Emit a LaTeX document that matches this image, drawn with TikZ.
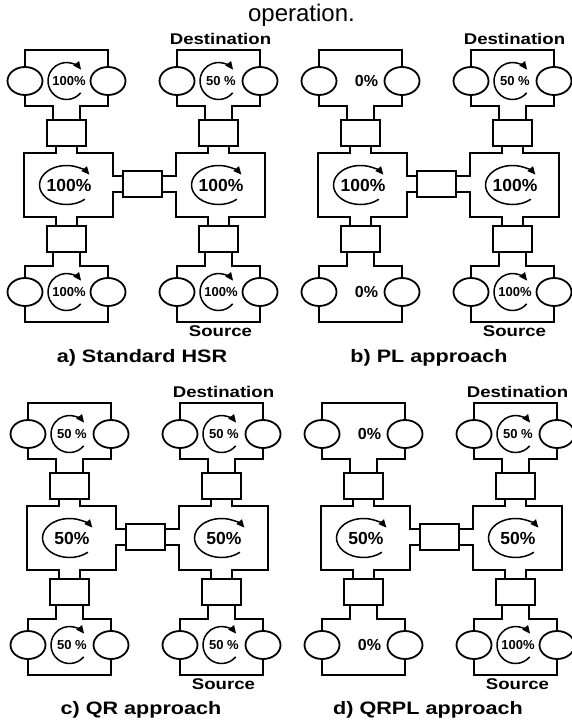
\documentclass[tikz,border=0pt]{standalone}
\usepackage{fontspec}
\setmainfont{Liberation Sans}
\usetikzlibrary{arrows.meta,shapes.geometric}
\tikzset{
  wire/.style={line width=1.8pt},
  unitbox/.style={draw, line width=1.8pt, minimum width=39pt, minimum height=26pt, inner sep=0pt},
  port/.style={draw, ellipse, line width=1.8pt, minimum width=35pt, minimum height=28pt, inner sep=0pt},
  spin/.style={line width=1.5pt, -{Triangle[length=8pt,width=7pt]}},
  bigpct/.style={font=\fontsize{17.5}{18}\selectfont\bfseries, inner sep=0pt},
  smallpct/.style={font=\fontsize{13}{14}\selectfont\bfseries, inner sep=0pt},
  zeropct/.style={font=\fontsize{16}{17}\selectfont\bfseries, inner sep=0pt},
  tag/.style={font=\fontsize{15.5}{16}\selectfont\bfseries, inner sep=0pt, anchor=base},
  capt/.style={font=\fontsize{18}{19}\selectfont\bfseries, inner sep=0pt, anchor=base},
}
\newcommand\widen[1]{\scalebox{1.2}[1]{#1}}
% circulating arrow with text inside a ring: #1 text, #2 name, #3 centre
\newcommand\ringspin[3]{%
  \draw[spin] #3 ++(-40:18.5pt) arc[start angle=-40, end angle=-322, radius=18.5pt];
  \node[smallpct, xshift=2.5pt] (#2) at #3 {#1};}
% plain text inside a ring
\newcommand\ringflat[3]{\node[zeropct, xshift=6pt] (#2) at #3 {#1};}
% circulating arrow inside a hub
\newcommand\hubspin[3]{%
  \draw[spin] #3 ++(-47:27pt and 19.5pt) arc[start angle=-47, end angle=-328, x radius=27pt, y radius=19.5pt];
  \node[bigpct, xshift=2.5pt] (#2) at #3 {#1};}
% rings and boxes of one column: #1 prefix, #2 centre x
\newcommand\colbase[2]{%
  \node[port] (#1a) at ({#2-41.5},81) {};
  \node[port] (#1b) at ({#2+41.5},81) {};
  \node[port] (#1c) at ({#2-41.5},292) {};
  \node[port] (#1d) at ({#2+41.5},292) {};
  \node[unitbox] (#1u) at (#2,133) {};
  \node[unitbox] (#1l) at (#2,239) {};
  \draw[wire] ([xshift=-13.5pt]#1u.north) -- ({#2-13.5},106) -- ({#2-41.5},106) -- (#1a.south);
  \draw[wire] (#1a.north) -- ({#2-41.5},50) -- ({#2+41.5},50) -- (#1b.north);
  \draw[wire] (#1b.south) -- ({#2+41.5},106) -- ({#2+13.5},106) -- ([xshift=13.5pt]#1u.north);
  \draw[wire] ([xshift=-13.5pt]#1l.south) -- ({#2-13.5},266) -- ({#2-41.5},266) -- (#1c.north);
  \draw[wire] (#1c.south) -- ({#2-41.5},322) -- ({#2+41.5},322) -- (#1d.south);
  \draw[wire] (#1d.north) -- ({#2+41.5},266) -- ({#2+13.5},266) -- ([xshift=13.5pt]#1l.south);}
% hub with notch on its right: #1 prefix, #2 centre x, #3 middle box
\newcommand\hubleft[3]{%
  \draw[wire] ([xshift=-10.5pt]#1u.south) -- ({#2-10.5},153) -- ({#2-42.5},153) -- ({#2-42.5},217) -- ({#2-10.5},217) -- ([xshift=-10.5pt]#1l.north);
  \draw[wire] ([xshift=10.5pt]#1u.south) -- ({#2+10.5},153) -- ({#2+46.5},153) -- ({#2+46.5},176) -- ([yshift=8pt]#3.west);
  \draw[wire] ([yshift=-8pt]#3.west) -- ({#2+46.5},192) -- ({#2+46.5},217) -- ({#2+10.5},217) -- ([xshift=10.5pt]#1l.north);}
% hub with notch on its left
\newcommand\hubright[3]{%
  \draw[wire] ([xshift=10.5pt]#1u.south) -- ({#2+10.5},153) -- ({#2+46.5},153) -- ({#2+46.5},217) -- ({#2+10.5},217) -- ([xshift=10.5pt]#1l.north);
  \draw[wire] ([xshift=-10.5pt]#1u.south) -- ({#2-10.5},153) -- ({#2-42.5},153) -- ({#2-42.5},176) -- ([yshift=8pt]#3.east);
  \draw[wire] ([yshift=-8pt]#3.east) -- ({#2-42.5},192) -- ({#2-42.5},217) -- ({#2-10.5},217) -- ([xshift=-10.5pt]#1l.north);}
% one panel: #1 prefix, #2 shift, #3 TL, #4 TR, #5 hub text, #6 BL, #7 BR
\newcommand\panel[7]{%
\begin{scope}[shift={#2}]
  \node[unitbox] (#1m) at (142.5,184) {};
  \colbase{#1L}{66.5}
  \colbase{#1R}{218.5}
  \hubleft{#1L}{66.5}{#1m}
  \hubright{#1R}{218.5}{#1m}
  #3{#1tl}{(66.5,81)}
  #4{#1tr}{(218.5,81)}
  \hubspin{#5}{#1hl}{(66.5,185)}
  \hubspin{#5}{#1hr}{(218.5,185)}
  #6{#1bl}{(66.5,292)}
  #7{#1br}{(218.5,292)}
  \node[tag] (#1dst) at (220.5,44) {\widen{Destination}};
  \node[tag] (#1src) at (220.5,336) {\widen{Source}};
\end{scope}}

\begin{document}
\begin{tikzpicture}[x=1pt,y=-1pt]
\useasboundingbox (0,0) rectangle (571,720);
\node[font=\fontsize{24}{26}\selectfont, inner sep=0pt, anchor=base] (title) at (301.5,21) {operation.};
\panel{a}{(0,0)}{\ringspin{100\%}}{\ringspin{50 \%}}{100\%}{\ringspin{100\%}}{\ringspin{100\%}}
\panel{b}{(294,0)}{\ringflat{0\%}}{\ringspin{50 \%}}{100\%}{\ringflat{0\%}}{\ringspin{100\%}}
\panel{c}{(3,353)}{\ringspin{50 \%}}{\ringspin{50 \%}}{50\%}{\ringspin{50 \%}}{\ringspin{50 \%}}
\panel{d}{(297,353)}{\ringflat{0\%}}{\ringspin{50 \%}}{50\%}{\ringflat{0\%}}{\ringspin{100\%}}
\node[capt] (capa) at (142,362.5) {\widen{a) Standard HSR}};
\node[capt] (capb) at (429,362.5) {\widen{b) PL approach}};
\node[capt] (capc) at (141,714) {\widen{c) QR approach}};
\node[capt] (capd) at (428,714) {\widen{d) QRPL approach}};
\end{tikzpicture}
\end{document}
